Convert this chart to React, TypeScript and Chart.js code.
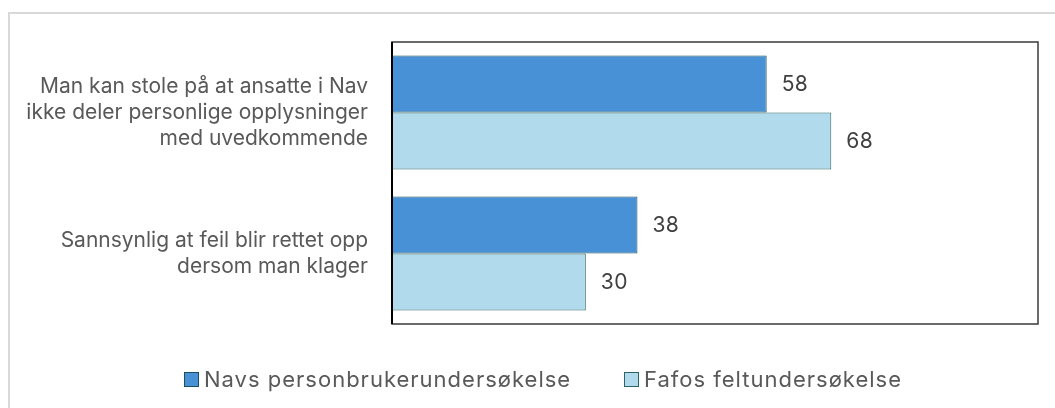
import React, { useEffect, useRef } from "react";
import { Chart, registerables } from "chart.js";

Chart.register(...registerables);

const categories: string[][] = [
  ["Man kan stole på at ansatte i Nav", "ikke deler personlige opplysninger", "med uvedkommende"],
  ["Sannsynlig at feil blir rettet opp", "dersom man klager"],
];
const seriesNames = ["Navs personbrukerundersøkelse", "Fafos feltundersøkelse"];
const navValues = [58, 38];
const fafoValues = [68, 30];
const colors = ["#4891d6", "#b1dbec"];
const borderColors = ["#1c4f5e", "#2a6466"];

const FONT = "Inter, 'Noto Sans', sans-serif";

const labelPlugin = {
  id: "valueLabels",
  afterDatasetsDraw(chart: any) {
    const ctx = chart.ctx;
    ctx.save();
    ctx.letterSpacing = "0.4px";
    ctx.font = `21px ${FONT}`;
    ctx.fillStyle = "#404040";
    ctx.textAlign = "left";
    ctx.textBaseline = "middle";
    chart.data.datasets.forEach((ds: any, i: number) => {
      const meta = chart.getDatasetMeta(i);
      meta.data.forEach((bar: any, j: number) => {
        ctx.fillText(String(ds.data[j]), bar.x + 15, bar.y + 1);
      });
    });
    ctx.restore();
  },
};

const borderPlugin = {
  id: "plotBorder",
  afterDraw(chart: any) {
    const { ctx, chartArea: a } = chart;
    ctx.save();
    ctx.strokeStyle = "#3a3a3a";
    ctx.lineWidth = 1.5;
    ctx.strokeRect(a.left, a.top, a.right - a.left, a.bottom - a.top);
    ctx.strokeStyle = "#000";
    ctx.lineWidth = 2;
    ctx.beginPath();
    ctx.moveTo(a.left, a.top);
    ctx.lineTo(a.left, a.bottom);
    ctx.stroke();
    ctx.restore();
  },
};

export default function App() {
  const ref = useRef<HTMLCanvasElement | null>(null);
  useEffect(() => {
    if (!ref.current) return;
    const chart = new Chart(ref.current, {
      type: "bar",
      data: {
        labels: categories as any,
        datasets: [
          {
            label: seriesNames[0],
            data: navValues,
            backgroundColor: colors[0],
            borderColor: borderColors[0],
            borderWidth: 1,
            barPercentage: 1,
            categoryPercentage: 0.81,
          },
          {
            label: seriesNames[1],
            data: fafoValues,
            backgroundColor: colors[1],
            borderColor: borderColors[1],
            borderWidth: 1,
            barPercentage: 1,
            categoryPercentage: 0.81,
          },
        ],
      },
      options: {
        indexAxis: "y",
        animation: false,
        responsive: false,
        maintainAspectRatio: false,
        layout: { padding: { left: 0, top: 42, right: 17, bottom: 84 } },
        plugins: {
          legend: { display: false },
          tooltip: { enabled: false },
        },
        scales: {
          x: {
            display: false,
            min: 0,
            max: 100,
          },
          y: {
            grid: { display: false, drawTicks: false },
            border: { display: false },
            ticks: {
              padding: 24,
              color: "#595959",
              font: { family: FONT, size: 21, lineHeight: 1.24 },
            },
            afterFit(scale: any) {
              scale.width = 392;
              scale.paddingTop = 0;
              scale.paddingBottom = 0;
            },
          },
        },
      },
      plugins: [labelPlugin, borderPlugin],
    });
    return () => chart.destroy();
  }, []);

  const legendItem = (i: number, left: number) => (
    <div
      style={{
        position: "absolute",
        left,
        top: 364,
        display: "flex",
        alignItems: "center",
        fontFamily: FONT,
        fontSize: 22,
        letterSpacing: "1px",
        color: "#595959",
        whiteSpace: "nowrap",
        lineHeight: "30px",
      }}
    >
      <span
        style={{
          display: "inline-block",
          width: 13,
          height: 13,
          background: colors[i],
          border: `1px solid ${borderColors[i]}`,
          marginRight: 5,
        }}
      />
      {seriesNames[i]}
    </div>
  );

  return (
    <div style={{ position: "fixed", left: 0, top: 0, width: 1055, height: 408, overflow: "hidden", background: "#fff" }}>
      <div
        style={{
          position: "absolute",
          left: 8,
          top: 12,
          width: 1200,
          height: 600,
          border: "2px solid #d9d9d9",
        }}
      />
      <canvas ref={ref} width={1055} height={408} style={{ position: "absolute", left: 0, top: 0 }} />
      {legendItem(0, 184)}
      {legendItem(1, 624)}
    </div>
  );
}
